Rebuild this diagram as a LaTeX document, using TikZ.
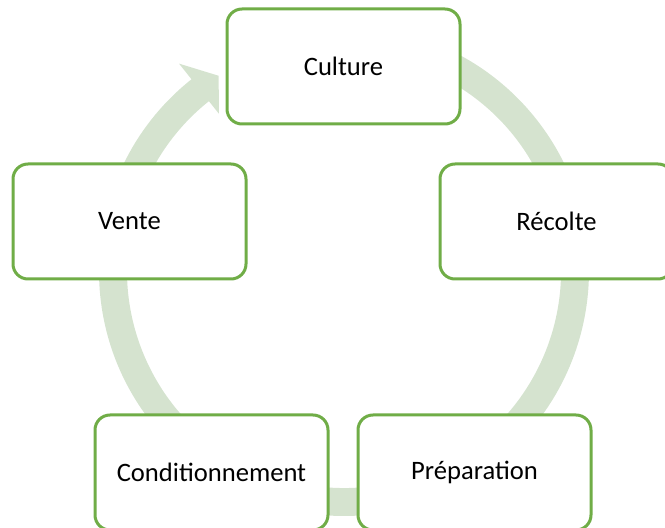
\documentclass[tikz,border=0pt]{standalone}
\usepackage{fontspec}
\setmainfont{Carlito}
\usetikzlibrary{calc}
\definecolor{boxgreen}{RGB}{112,173,71}
\definecolor{ringgreen}{RGB}{213,227,207}
\begin{document}
\begin{tikzpicture}[x=1pt,y=1pt,
  stage/.style={draw=boxgreen, line width=3pt, fill=white, rounded corners=15pt,
    minimum width=233pt, minimum height=115pt, inner sep=0pt,
    font=\fontsize{26.6}{32}\selectfont, text=black},
  ring/.style={fill=ringgreen, draw=none}]
\clip (0,0) rectangle (665,528);
\coordinate (c) at (344,257);
% ring with arrowhead, as one shape
\fill[ring] ($(c)+(128.5:217)$) -- ($(c)+(128.5:201)$) -- ($(c)+(122.7:232)$)
  -- ($(c)+(128.5:265)$) -- ($(c)+(128.5:245)$)
  arc[start angle=128.5, end angle=470, radius=245]
  -- ($(c)+(110:217)$)
  arc[start angle=470, end angle=128.5, radius=217] -- cycle;
% stages
\node[stage] (culture) at (343.5,461.5) {Culture};
\node[stage] (recolte) at (556.5,306.5) {Récolte};
\node[stage] (preparation) at (474.5,55.5) {Préparation};
\node[stage] (conditionnement) at (211.5,55.5) {Conditionnement};
\node[stage] (vente) at (129.5,306.5) {Vente};
\end{tikzpicture}
\end{document}
